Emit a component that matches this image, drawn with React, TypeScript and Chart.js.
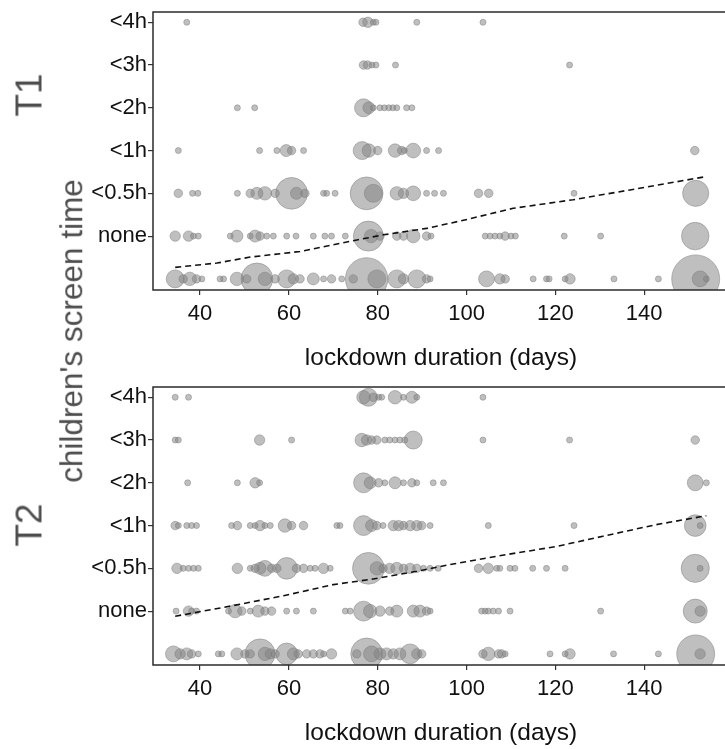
import React, { useEffect, useRef } from 'react';
import { Chart, registerables } from 'chart.js';

Chart.register(...registerables);

// ---------- axis labels ----------
const Y_LABELS = ['', 'none', '<0.5h', '<1h', '<2h', '<3h', '<4h'];
const X_TICKS = [40, 60, 80, 100, 120, 140];

// ---------- T1 : [lockdown days, number of children] per screen-time row ----------
const T1_ROW0: [number, number][] = [[34.4,9],[36.2,2],[37.7,5],[39.2,2],[40.4,1],[44.5,1],[45.3,1],[48.3,5],[50.5,2],[52.8,28],[54.6,5],[56.9,2],[59.5,9],[61,3],[62.5,2],[65.5,4],[67.8,1],[69.6,2],[71.9,1],[74.5,2],[77.5,50],[79.8,9],[84.3,9],[85.8,3],[88.8,9],[91,2],[91.8,1],[104.5,7],[107.5,3],[108.7,2],[115,1],[118,1],[118.6,1],[122.2,1],[123.3,3],[133.2,1],[143.2,1],[151.6,64],[152.6,7],[154,1]];
const T1_NONE: [number, number][] = [[34.4,3],[37.4,3],[38.5,1],[39.6,1],[46.8,1],[48.3,4],[51.3,1],[52.4,4],[53.5,2],[55,1],[56.5,1],[59.5,1],[61.6,1],[65.5,1],[68.1,1],[69.6,1],[72.7,1],[77.9,25],[78.5,5],[80.5,2],[84.3,2],[85.8,2],[88,5],[91,2],[92,1],[104.2,1],[105.3,1],[106.4,1],[107.5,1],[108.7,2],[110,1],[111,1],[122,1],[130.2,1],[151.5,21]];
const T1_H05: [number, number][] = [[35.1,2],[38.3,1],[39.5,1],[48.4,1],[51.3,2],[52.8,4],[54.6,5],[56.9,2],[60.6,28],[61.7,4],[63.6,2],[67.8,1],[68.5,1],[70.4,1],[77.5,30],[79,9],[84.3,5],[85.8,3],[88,6],[91,1],[92.8,1],[94.8,1],[102.7,2],[105,2],[124.2,1],[151.6,19]];
const T1_H1: [number, number][] = [[35.1,1],[53.4,1],[57.3,1],[59.4,4],[60.6,2],[63.3,1],[76.5,9],[78,5],[80,2],[83.9,5],[85.4,2],[86,1],[88,6],[91,1],[93.7,1],[151.4,2]];
const T1_H2: [number, number][] = [[48.4,1],[52.3,1],[76.8,9],[78,4],[79,1],[80.5,1],[81.5,1],[82.5,1],[83.4,1],[84.3,1],[86.5,1],[87.7,1]];
const T1_H3: [number, number][] = [[76.8,2],[77.7,2],[78.7,1],[79.6,1],[84,1],[123.2,1]];
const T1_H4: [number, number][] = [[37,1],[76.7,2],[77.8,3],[79,1],[79.6,1],[88.8,1],[103.7,1]];

// ---------- T2 ----------
const T2_ROW0: [number, number][] = [[34,7],[35.5,3],[37,4],[38.1,2],[39.6,1],[44.1,1],[44.9,1],[48.3,4],[50.1,2],[51.3,2],[53.5,25],[54.6,5],[55.8,3],[56.9,2],[59.5,13],[61,4],[62.1,2],[64,2],[65.5,2],[67,2],[67.8,1],[69.6,3],[75.3,2],[77.5,28],[78.6,7],[80.5,4],[82,4],[83.5,3],[85,4],[87.3,11],[88.8,3],[89.9,2],[103.7,2],[104.9,5],[107.2,2],[107.9,2],[108.7,1],[118.8,1],[122.2,1],[123.3,3],[133.1,1],[143.2,1],[151.6,40],[152.6,3]];
const T2_NONE: [number, number][] = [[34.6,1],[37.4,3],[38.1,1],[39.2,1],[46.4,1],[47.9,5],[49.4,2],[51.3,1],[53.1,4],[54.6,2],[56.1,2],[59.5,1],[61.7,1],[65.5,1],[72.7,1],[73.8,1],[76.8,11],[78.3,5],[80.5,3],[82.7,2],[84.3,4],[88,4],[89.5,4],[91,2],[91.8,1],[103.4,1],[104.2,1],[104.9,1],[106,1],[107.2,1],[109.8,1],[130.2,1],[151.5,16],[152.6,3]];
const T2_H05: [number, number][] = [[34.8,3],[36.2,1],[37.4,1],[38.5,1],[39.6,1],[48.4,3],[51.3,1],[52.4,2],[53.5,4],[54.6,7],[56.1,2],[57.3,2],[59.5,13],[61.7,2],[63.3,2],[64.8,1],[65.9,1],[67.8,3],[69.3,1],[77.9,28],[79.8,5],[81.2,2],[82.7,3],[84.3,4],[85.8,2],[87.3,3],[88.8,2],[90.3,1],[91.8,1],[93.6,1],[102.7,2],[104.9,3],[106.8,1],[107.5,1],[109.8,1],[110.9,1],[114.9,1],[118,1],[122.2,1],[151.5,22],[152.6,1]];
const T2_H1: [number, number][] = [[34.4,2],[35.1,1],[37,1],[38.1,1],[39.2,1],[47.1,1],[48.4,2],[51.3,1],[52.4,1],[53.5,3],[54.6,1],[55.8,1],[59.1,5],[60.6,2],[63.3,2],[70.8,1],[71.5,1],[76.8,11],[78.6,4],[79.8,2],[81.2,1],[83.5,3],[84.7,3],[85.8,2],[87.3,3],[88.8,3],[89.9,2],[91.8,1],[104.9,1],[124.2,1],[151.5,13],[152.6,1]];
const T2_H2: [number, number][] = [[37.2,1],[48.4,1],[52.4,3],[53.4,1],[76.8,11],[78.3,4],[80.2,2],[81.6,1],[83.9,4],[85.8,1],[87.7,2],[88.8,1],[92.5,1],[94.8,1],[151.5,7],[154,1]];
const T2_H3: [number, number][] = [[34.4,1],[35.1,1],[53.4,3],[60.6,1],[76.4,5],[77.5,3],[78.6,2],[79.8,2],[81.6,1],[82.7,1],[83.9,1],[85,1],[86.1,1],[88,9],[103.7,1],[123.2,1],[151.5,2]];
const T2_H4: [number, number][] = [[34.4,1],[37.4,1],[76.8,5],[77.9,9],[79,2],[80.2,1],[80.9,1],[83.9,5],[85.8,1],[87.7,4],[88.8,1],[103.7,1]];

// ---------- fitted (dashed) lines ----------
const T1_FIT_X = [34.4, 43.8, 51.3, 62.5, 75.3, 81.3, 91, 99.3, 110.5, 124, 136.8, 153.3];
const T1_FIT_Y = [0.27, 0.37, 0.51, 0.64, 0.91, 1.03, 1.18, 1.37, 1.65, 1.85, 2.08, 2.38];
const T2_FIT_X = [34.4, 47.5, 58.8, 70, 78.3, 88.8, 96.3, 108.9, 120.2, 130.7, 142.6, 154];
const T2_FIT_Y = [0.88, 1.13, 1.36, 1.62, 1.74, 1.93, 2.09, 2.32, 2.51, 2.75, 3.02, 3.23];

const T1_ROWS = [T1_ROW0, T1_NONE, T1_H05, T1_H1, T1_H2, T1_H3, T1_H4];
const T2_ROWS = [T2_ROW0, T2_NONE, T2_H05, T2_H1, T2_H2, T2_H3, T2_H4];

const FONT = "'Liberation Sans', Arial, Helvetica, sans-serif";
const CW = 760;
const CH = 376;

const framePlugin = {
  id: 'frame',
  afterDraw(chart: any) {
    const { ctx, chartArea } = chart;
    ctx.save();
    ctx.strokeStyle = '#2b2b2b';
    ctx.lineWidth = 1.5;
    ctx.strokeRect(chartArea.left, chartArea.top, chartArea.right - chartArea.left, chartArea.bottom - chartArea.top);
    ctx.restore();
  },
};

function Panel({ rows, fitX, fitY, top }: { rows: [number, number][][]; fitX: number[]; fitY: number[]; top: number }) {
  const ref = useRef<HTMLCanvasElement>(null);
  useEffect(() => {
    const bubbles: { x: number; y: number; r: number }[] = [];
    rows.forEach((row, yi) => {
      row.forEach(([d, n]) => bubbles.push({ x: d, y: yi, r: 3 * Math.sqrt(n) }));
    });
    const chart = new Chart(ref.current as HTMLCanvasElement, {
      type: 'bubble',
      data: {
        datasets: [
          {
            type: 'line',
            data: fitX.map((x, i) => ({ x, y: fitY[i] })),
            borderColor: '#111111',
            borderWidth: 1.6,
            borderDash: [6, 4],
            pointRadius: 0,
            fill: false,
            tension: 0,
            order: 0,
            clip: 0,
          } as any,
          {
            type: 'bubble',
            data: bubbles,
            backgroundColor: 'rgba(127,127,127,0.5)',
            borderColor: 'rgba(127,127,127,0.5)',
            borderWidth: 1,
            order: 1,
            clip: 0,
          } as any,
        ],
      },
      options: {
        responsive: false,
        animation: false,
        events: [],
        layout: { autoPadding: false, padding: { top: 12, right: 31, left: 0, bottom: 0 } },
        plugins: { legend: { display: false }, tooltip: { enabled: false }, title: { display: false } },
        scales: {
          x: {
            type: 'linear',
            min: 29.4,
            max: 159.1,
            afterBuildTicks: (s: any) => {
              s.ticks = X_TICKS.map((v) => ({ value: v }));
            },
            afterFit: (s: any) => {
              s.height = CH - 290;
              s.paddingLeft = 0;
              s.paddingRight = 0;
            },
            border: { display: false },
            grid: { display: true, drawOnChartArea: false, drawTicks: true, tickLength: 5, color: '#333333', lineWidth: 1.2 },
            ticks: { color: '#111111', font: { family: FONT, size: 22 }, padding: 6, maxRotation: 0, autoSkip: false },
            title: {
              display: true,
              text: 'lockdown duration (days)',
              color: '#111111',
              font: { family: FONT, size: 24.5 },
              padding: { top: 0, bottom: 3 },
            },
          },
          y: {
            type: 'linear',
            min: -0.26,
            max: 6.24,
            afterBuildTicks: (s: any) => {
              s.ticks = [1, 2, 3, 4, 5, 6].map((v) => ({ value: v }));
            },
            afterFit: (s: any) => {
              s.width = 153;
              s.paddingTop = 0;
              s.paddingBottom = 0;
            },
            border: { display: false },
            grid: { display: true, drawOnChartArea: false, drawTicks: true, tickLength: 5, color: '#333333', lineWidth: 1.2 },
            ticks: {
              color: '#111111',
              font: { family: FONT, size: 22, lineHeight: 1.0 },
              padding: 1,
              autoSkip: false,
              callback: (v: any) => Y_LABELS[Math.round(Number(v))] ?? '',
            },
          },
        },
      },
      plugins: [framePlugin],
    });
    return () => chart.destroy();
  }, []);
  return (
    <canvas
      ref={ref}
      width={CW}
      height={CH}
      style={{ position: 'absolute', left: 0, top, width: CW, height: CH }}
    />
  );
}

function VText({ text, cx, cy, size, color }: { text: string; cx: number; cy: number; size: number; color: string }) {
  return (
    <div
      style={{
        position: 'absolute',
        left: cx,
        top: cy,
        transform: 'translate(-50%, -50%) rotate(-90deg)',
        fontFamily: FONT,
        fontSize: size,
        lineHeight: 1,
        color,
        whiteSpace: 'nowrap',
      }}
    >
      {text}
    </div>
  );
}

export default function App() {
  return (
    <div
      style={{
        position: 'fixed',
        left: 0,
        top: 0,
        width: 725,
        height: 749,
        overflow: 'hidden',
        background: '#ffffff',
      }}
    >
      <Panel rows={T1_ROWS} fitX={T1_FIT_X} fitY={T1_FIT_Y} top={0} />
      <Panel rows={T2_ROWS} fitX={T2_FIT_X} fitY={T2_FIT_Y} top={375} />
      <VText text="T1" cx={29} cy={95} size={37} color="#4d4d4d" />
      <VText text="T2" cx={29} cy={525} size={37} color="#4d4d4d" />
      <VText text="children's screen time" cx={72} cy={331} size={31.5} color="#4d4d4d" />
    </div>
  );
}
